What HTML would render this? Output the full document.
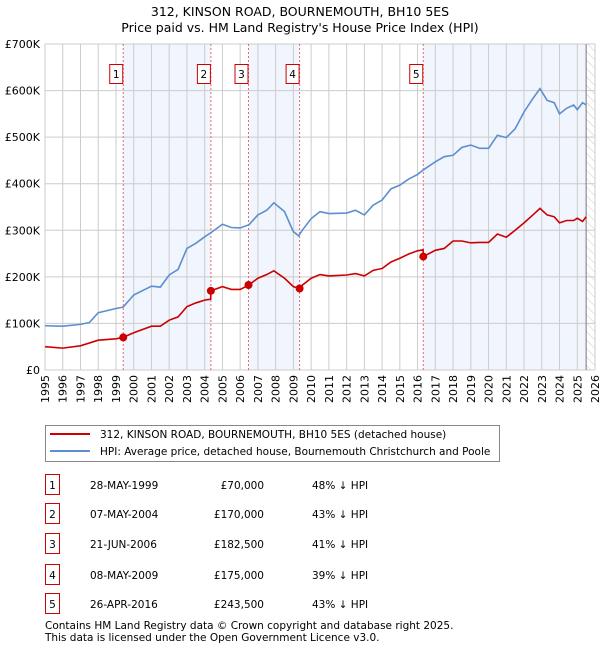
<!DOCTYPE html>
<html><head><meta charset="utf-8"><style>
body{margin:0;background:#fff;width:600px;height:650px;overflow:hidden}
svg text{font-family:"DejaVu Sans","Liberation Sans",sans-serif;fill:#000}
</style></head><body>
<svg id="c" width="600" height="650">
<text x="300" y="16" font-size="12.5" text-anchor="middle">312, KINSON ROAD, BOURNEMOUTH, BH10 5ES</text>
<text x="300" y="32" font-size="12.5" text-anchor="middle">Price paid vs. HM Land Registry's House Price Index (HPI)</text>
<g id="plot"></g>
<g>
<rect x="45.5" y="425.5" width="454" height="36" fill="#fff" stroke="#888"/>
<line x1="50" y1="434" x2="90" y2="434" stroke="#cc0000" stroke-width="2"/>
<text x="100" y="438" font-size="10.5">312, KINSON ROAD, BOURNEMOUTH, BH10 5ES (detached house)</text>
<line x1="50" y1="451" x2="90" y2="451" stroke="#5b8fd0" stroke-width="2"/>
<text x="100" y="455" font-size="10.5">HPI: Average price, detached house, Bournemouth Christchurch and Poole</text>
</g>
<g id="table"></g>
<text x="45" y="629" font-size="10.5" fill="#333">Contains HM Land Registry data © Crown copyright and database right 2025.</text>
<text x="45" y="641" font-size="10.5" fill="#333">This data is licensed under the Open Government Licence v3.0.</text>
</svg>
<script>
const hpiYears=[1995,1996,1997,1997.5,1998,1999,1999.4,2000,2001,2001.5,2002,2002.5,2003,2003.5,2004,2004.4,2005,2005.5,2006,2006.5,2007,2007.5,2007.9,2008.5,2009,2009.3,2009.5,2010,2010.5,2011,2012,2012.5,2013,2013.5,2014,2014.5,2015,2015.5,2016,2016.3,2017,2017.5,2018,2018.5,2019,2019.5,2020,2020.5,2021,2021.5,2022,2022.5,2022.9,2023.3,2023.7,2024,2024.4,2024.8,2025,2025.3,2025.5];
const hpiValues=[95,94,98,102,123,132,135,161,180,178,204,216,261,272,286,296,313,306,305,312,333,343,359,340,297,288,300,325,340,336,337,343,333,354,365,389,397,410,420,429,447,458,461,478,483,476,476,504,499,518,554,583,604,579,574,550,562,569,559,574,569];
const propYears=[1995,1996,1997,1998,1999,1999.4,2000,2001,2001.5,2002,2002.5,2003,2003.5,2004,2004.34,2004.35,2005,2005.5,2006,2006.47,2007,2007.5,2007.9,2008.5,2009,2009.35,2009.5,2010,2010.5,2011,2012,2012.5,2013,2013.5,2014,2014.5,2015,2015.5,2016,2016.31,2016.32,2017,2017.5,2018,2018.5,2019,2019.5,2020,2020.5,2021,2021.5,2022,2022.5,2022.9,2023.3,2023.7,2024,2024.4,2024.8,2025,2025.3,2025.5];
const propValues=[50,47,52,64,67,70,80,94,94,107,114,136,144,150,152,170,179,173,173,182,197,205,213,197,179,175,182,197,205,202,204,207,202,214,218,232,240,249,256,258,243.5,257,261,277,277,273,274,274,292,285,300,316,333,347,333,329,316,321,321,326,319,329];
const saleLabels=["1","2","3","4","5"];
const saleYears=[1999.41,2004.35,2006.47,2009.35,2016.32];
const salePrices=[70,170,182.5,175,243.5];
const saleDates=["28-MAY-1999","07-MAY-2004","21-JUN-2006","08-MAY-2009","26-APR-2016"];
const salePriceText=["£70,000","£170,000","£182,500","£175,000","£243,500"];
const saleHpiText=["48% ↓ HPI","43% ↓ HPI","41% ↓ HPI","39% ↓ HPI","43% ↓ HPI"];
const yTicks=[0,100,200,300,400,500,600,700];
const yTickLabels=["£0","£100K","£200K","£300K","£400K","£500K","£600K","£700K"];
const xTicks=[1995,1996,1997,1998,1999,2000,2001,2002,2003,2004,2005,2006,2007,2008,2009,2010,2011,2012,2013,2014,2015,2016,2017,2018,2019,2020,2021,2022,2023,2024,2025,2026];
const dataEnd=2025.5;

const NS="http://www.w3.org/2000/svg";
const X0=45,X1=595,Y0=370,Y1=44;
const xs=y=>X0+(y-1995)/(2026-1995)*(X1-X0);
const ys=v=>Y0-v/700*(Y0-Y1);
function mk(tag,attrs,parent){const e=document.createElementNS(NS,tag);for(const k in attrs)e.setAttribute(k,attrs[k]);parent.appendChild(e);return e;}
const g=document.getElementById('plot');
const shadeSpans=[[0,1],[2,3],[4,null]];
shadeSpans.forEach((s,i)=>{const a=saleYears[s[0]],b=s[1]===null?dataEnd:saleYears[s[1]];
const r=mk('rect',{x:xs(a),y:Y1,width:xs(b)-xs(a),height:Y0-Y1,fill:'#eef3fc',opacity:0.8},g);

});
const defs=mk('defs',{},g);
const pat=mk('pattern',{id:'hatch',width:6,height:6,patternUnits:'userSpaceOnUse',patternTransform:'rotate(-45)'},defs);
mk('line',{x1:0,y1:0,x2:0,y2:6,stroke:'#ccc','stroke-width':1},pat);
const hr=mk('rect',{x:xs(dataEnd),y:Y1,width:X1-xs(dataEnd),height:Y0-Y1,fill:'url(#hatch)'},g);


xTicks.forEach(t=>{const l=mk('line',{x1:xs(t),x2:xs(t),y1:Y1,y2:Y0,stroke:'#ccc'},g);


const tg=mk('g',{transform:'translate('+(xs(t)+4)+',375) rotate(-90)'},g);
const tx=mk('text',{x:0,y:0,'font-size':11,'text-anchor':'end'},tg);tx.textContent=t;

});
yTicks.forEach((t,i)=>{const l=mk('line',{x1:X0,x2:X1,y1:ys(t),y2:ys(t),stroke:'#ccc'},g);


const tx=mk('text',{x:40,y:ys(t)+4,'font-size':11,'text-anchor':'end'},g);tx.textContent=yTickLabels[i];

});
const el=mk('line',{x1:xs(dataEnd),x2:xs(dataEnd),y1:Y1,y2:Y0,stroke:'#777'},g);


saleYears.forEach((y,i)=>{const l=mk('line',{x1:xs(y),x2:xs(y),y1:Y1,y2:Y0,stroke:'#e66','stroke-dasharray':'2,2'},g);


const r=mk('rect',{x:xs(y)-13.5,y:64.5,width:13,height:19,fill:'#fff',stroke:'#cc0000'},g);


const t=mk('text',{x:xs(y)-7,y:78,'font-size':10.5,'text-anchor':'middle'},g);t.textContent=saleLabels[i];

});
const hp=mk('polyline',{points:hpiYears.map((y,i)=>xs(y)+','+ys(hpiValues[i])).join(' '),fill:'none',stroke:'#5b8fd0','stroke-width':1.6},g);


const pp=mk('polyline',{points:propYears.map((y,i)=>xs(y)+','+ys(propValues[i])).join(' '),fill:'none',stroke:'#cc0000','stroke-width':1.6},g);


saleYears.forEach((y,i)=>{const c=mk('circle',{cx:xs(y),cy:ys(salePrices[i]),r:4,fill:'#cc0000'},g);

});
const tb=document.getElementById('table');
const rowY=[485,514,544,575,604];
saleLabels.forEach((s,i)=>{const y=rowY[i];
const r=mk('rect',{x:45.5,y:y-10.5,width:14,height:20,fill:'#fff',stroke:'#cc0000'},tb);


const a=mk('text',{x:52.5,y:y+4,'font-size':10.5,'text-anchor':'middle'},tb);a.textContent=s;


const b=mk('text',{x:90,y:y+4,'font-size':10.5},tb);b.textContent=saleDates[i];


const c=mk('text',{x:264,y:y+4,'font-size':10.5,'text-anchor':'end'},tb);c.textContent=salePriceText[i];


const d=mk('text',{x:312,y:y+4,'font-size':10.5},tb);d.textContent=saleHpiText[i];

});
</script>
</body></html>
